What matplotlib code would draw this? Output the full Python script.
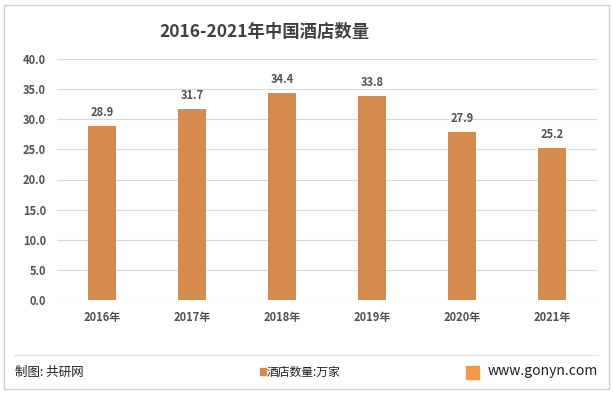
import matplotlib.pyplot as plt
from matplotlib.patches import Rectangle
from matplotlib.lines import Line2D

plt.rcParams['font.family'] = ['Noto Sans CJK SC', 'DejaVu Sans']

years = ["2016年", "2017年", "2018年", "2019年", "2020年", "2021年"]
hotels = [28.9, 31.7, 34.4, 33.8, 27.9, 25.2]
yticks = [0, 5, 10, 15, 20, 25, 30, 35, 40]

bar_color = "#D48B4E"
text_color = "#505050"

fig = plt.figure(figsize=(6.13, 3.93), dpi=100)
W, H = 613, 393

# outer frame
fig.patches.append(Rectangle((4 / W, 1 - 389 / H), 605 / W, 384 / H, transform=fig.transFigure,
                             fill=False, edgecolor="#d0d0d0", linewidth=1))

ax = fig.add_axes([57 / W, 1 - 300 / H, 540 / W, 241 / H])
x = range(len(years))
ax.bar(x, hotels, width=0.31, color=bar_color, zorder=3)
for i, v in enumerate(hotels):
    ax.text(i, v + 1.2, f"{v:.1f}", ha="center", va="bottom", fontsize=8,
            fontweight="bold", color=text_color)

ax.set_ylim(0, 40)
ax.set_xlim(-0.5, len(years) - 0.5)
ax.set_yticks(yticks)
ax.set_yticklabels([f"{t:.1f}" for t in yticks], fontsize=8, fontweight="bold", color=text_color)
ax.set_xticks(list(x))
ax.set_xticklabels(years, fontsize=8, fontweight="bold", color=text_color)
ax.tick_params(length=0, pad=8)
ax.grid(axis="y", color="#d9d9d9", linewidth=0.8, zorder=0)
for s in ax.spines.values():
    s.set_visible(False)
ax.axhline(0, color="#d9d9d9", linewidth=0.8, zorder=1)

fig.text(264 / W, 1 - 32 / H, "2016-2021年中国酒店数量", ha="center", va="center",
         fontsize=12.5, fontweight="bold", color="#404040")

# footer
fig.lines.append(Line2D([14 / W, 598 / W], [1 - 355 / H, 1 - 355 / H], transform=fig.transFigure,
                        color="#e0e0e0", linewidth=0.8))
fig.text(15 / W, 1 - 372 / H, "制图: 共研网", ha="left", va="center", fontsize=9, color="#202020")
fig.patches.append(Rectangle((260 / W, 1 - 375 / H), 6 / W, 7 / H, transform=fig.transFigure,
                             color=bar_color))
fig.text(267 / W, 1 - 372 / H, "酒店数量:万家", ha="left", va="center", fontsize=8.5, color="#202020")
fig.patches.append(Rectangle((466 / W, 1 - 379 / H), 13 / W, 13 / H, transform=fig.transFigure,
                             color="#F39A4A"))
fig.text(488 / W, 1 - 371 / H, "www.gonyn.com", ha="left", va="center", fontsize=10, color="#202020")

fig.savefig("out.png", dpi=100)
